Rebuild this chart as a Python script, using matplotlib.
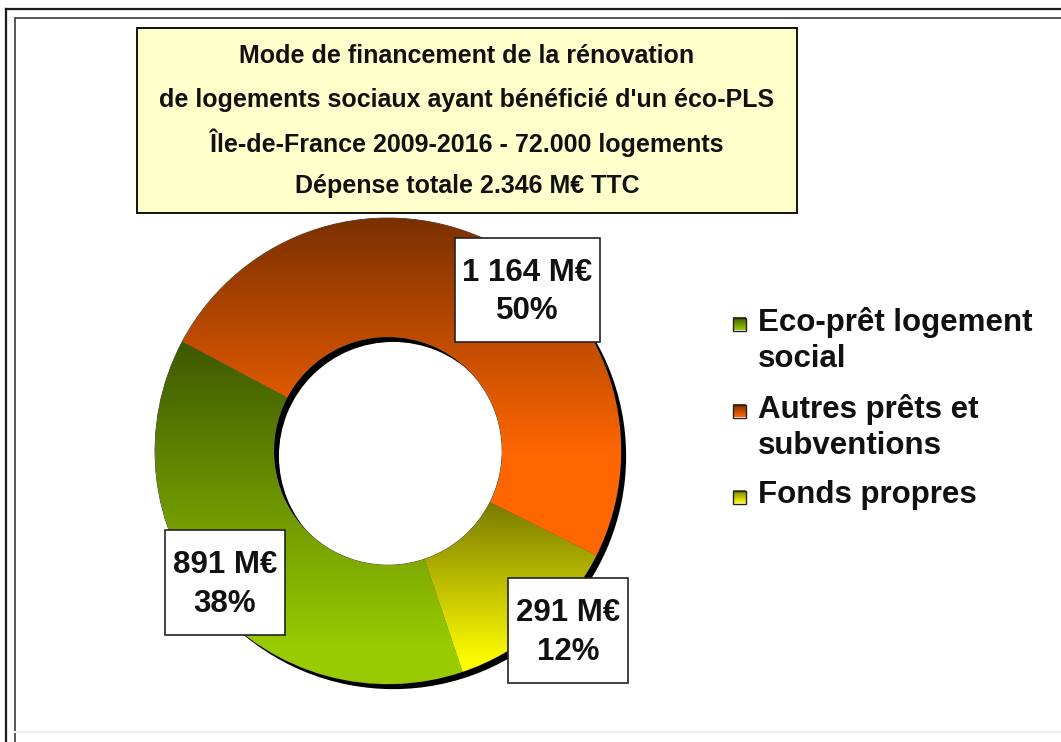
"""
Doughnut chart: financing of social housing renovation (eco-PLS), Ile-de-France
"""

import numpy as np
import matplotlib.pyplot as plt
from matplotlib.colors import LinearSegmentedColormap
from matplotlib.patches import Rectangle

title_lines = [
    "Mode de financement de la rénovation",
    "de logements sociaux ayant bénéficié d'un éco-PLS",
    "Île-de-France 2009-2016 - 72.000 logements",
    "Dépense totale 2.346 M€ TTC",
]
categories = ["Eco-prêt logement\nsocial", "Autres prêts et\nsubventions", "Fonds propres"]
values = [891, 1164, 291]
# gradient bottom (light) -> top (dark)
light_colors = ["#99cc00", "#ff6600", "#ffff00"]
dark_colors = ["#3d5800", "#7a2f00", "#7a7a00"]
light_stops = [0.1, 0.3, 0.05]

W, H = 1061, 742
FONT = "Liberation Sans"
FS_TITLE = 18
FS_LABEL = 22.5

fig = plt.figure(figsize=(W / 100, H / 100), dpi=100, facecolor="white")

# overlay axes in pixel coordinates
over = fig.add_axes([0, 0, 1, 1], zorder=2)
over.set_xlim(0, W)
over.set_ylim(H, 0)
over.axis("off")
over.patch.set_alpha(0)

# frame lines
over.plot([6, W], [9, 9], color="#1a1a1a", lw=1.6)
over.plot([6, 6], [9, H], color="#1a1a1a", lw=1.6)
over.plot([15, W], [18, 18], color="#555555", lw=1.4)
over.plot([15, 15], [18, H], color="#555555", lw=1.4)
over.plot([15, W], [732, 732], color="#eeeeee", lw=1.5)

# title box
over.add_patch(Rectangle((137, 28), 660, 185, facecolor="#ffffcc", edgecolor="black", lw=1.3))
for i, line in enumerate(title_lines):
    over.text(467, 56 + i * 43.5, line, ha="center", va="center",
              fontsize=FS_TITLE, fontweight="bold", family=FONT, color="#111111")

# doughnut axes: centre (388, 451), radius 233 px
R = 233
cx, cy = 388, 451
ax = fig.add_axes([(cx - R) / W, (H - cy - R) / H, 2 * R / W, 2 * R / H], zorder=1)
ring = 0.51

# shadow
ax.pie([1], colors=["black"], radius=1.0, center=(0.022, -0.022),
       wedgeprops=dict(width=ring, linewidth=0))
wedges, _ = ax.pie(values, startangle=288.7, counterclock=False, radius=1.0,
                   wedgeprops=dict(width=ring, facecolor="none",
                                   edgecolor="#333333", linewidth=0.6))
grad = np.linspace(0, 1, 256).reshape(-1, 1)
for wedge, lc, dc, st in zip(wedges, light_colors, dark_colors, light_stops):
    ext = wedge.get_path().get_extents()
    cmap = LinearSegmentedColormap.from_list("g", [(0, lc), (st, lc), (1, dc)])
    wedge.set_facecolor("white")
    img = ax.imshow(grad, extent=[ext.x0, ext.x1, ext.y0, ext.y1], origin="lower",
                    cmap=cmap, aspect="auto", zorder=wedge.get_zorder() + 0.1)
    img.set_clip_path(wedge)
ax.set_xlim(-1, 1)
ax.set_ylim(-1, 1)
ax.axis("off")

# data labels
total = sum(values)
label_boxes = [(165, 530, 120, 105), (455, 238, 145, 104), (508, 578, 120, 105)]
for v, (bx, by, bw, bh) in zip(values, label_boxes):
    over.add_patch(Rectangle((bx, by), bw, bh, facecolor="white", edgecolor="#222222", lw=1.2))
    txt = f"{v:,} M€".replace(",", " ") + f"\n{round(100 * v / total)}%"
    over.text(bx + bw / 2, by + bh / 2 + 2, txt, ha="center", va="center", linespacing=1.35,
              fontsize=FS_LABEL, fontweight="bold", family=FONT, color="#111111")

# legend
leg_y = [324, 411, 497]
for cat, lc, dc, y in zip(categories, light_colors, dark_colors, leg_y):
    cmap = LinearSegmentedColormap.from_list("g", [lc, dc])
    over.imshow(grad, extent=[733, 746, y + 6.5, y - 6.5], origin="lower",
                cmap=cmap, aspect="auto", zorder=3)
    over.add_patch(Rectangle((733, y - 6.5), 13, 13, facecolor="none",
                             edgecolor="#222222", lw=1, zorder=4))
    over.text(758, y - 17, cat, ha="left", va="top", linespacing=1.28,
              fontsize=FS_LABEL, fontweight="bold", family=FONT, color="#111111")
over.set_xlim(0, W)
over.set_ylim(H, 0)

fig.savefig("out.png", dpi=100)
